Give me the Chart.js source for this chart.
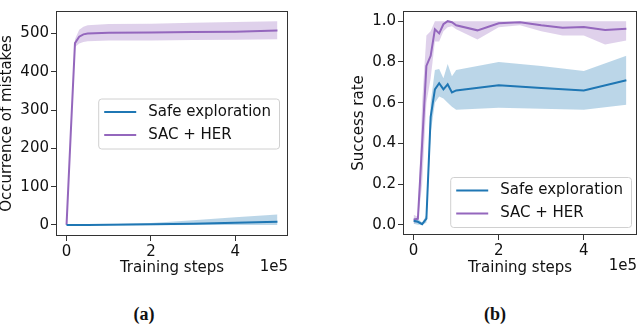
<!DOCTYPE html>
<html>
<head>
<meta charset="utf-8">
<script src="https://cdn.jsdelivr.net/npm/chart.js@4.4.1/dist/chart.umd.min.js"></script>
<style>
  body { margin: 0; width: 640px; height: 325px; background: #fff; position: relative; overflow: hidden; }
  .panel { position: absolute; top: 0; width: 320px; height: 277px; }
  .cap { position: absolute; top: 303px; width: 60px; text-align: center; font: bold 18px "Liberation Serif", serif; color: #111; line-height: 22px; }
</style>
</head>
<body>
<div class="panel" style="left:0"><canvas id="mistakesChart"></canvas></div>
<div class="panel" style="left:320px"><canvas id="successChart"></canvas></div>
<div class="cap" style="left:114px">(a)</div>
<div class="cap" style="left:465px">(b)</div>
<script>
const blue = "#1f77b4";
const purple = "#9467bd";

// (a) occurrence of mistakes, x in 1e5 training steps
const mistakesSteps = [0, 0.1, 0.2, 0.3, 0.4, 0.5, 1, 2, 3, 4, 5];
const mistakesSafe = [0, 0, 0, 0, 0, 0, 0.5, 1.5, 3, 5.5, 8.5];
const mistakesSafeLow = [-1, -1, -1, -1, -1, -1, -1, -1, -0.5, 0, 0];
const mistakesSafeHigh = [1, 1, 1, 1, 1, 1, 2, 5, 12, 20, 27];
const mistakesSac = [0, 240, 475, 492, 498, 500, 502, 503, 504, 505, 508];
const mistakesSacLow = [0, 230, 465, 474, 478, 480, 482, 482, 483, 484, 485];
const mistakesSacHigh = [0, 250, 485, 510, 518, 522, 525, 526, 528, 530, 532];

// (b) success rate
const safeSteps = [0, 0.1, 0.2, 0.3, 0.4, 0.5, 0.6, 0.7, 0.8, 0.9, 1, 2, 3, 4, 5];
const successSafe = [0.02, 0.015, 0.003, 0.03, 0.53, 0.665, 0.695, 0.665, 0.69, 0.65, 0.66, 0.685, 0.672, 0.66, 0.71];
const successSafeLow = [0.005, 0.0, 0.0, 0.01, 0.45, 0.6, 0.63, 0.62, 0.6, 0.58, 0.565, 0.575, 0.57, 0.565, 0.59];
const successSafeHigh = [0.035, 0.03, 0.01, 0.05, 0.6, 0.76, 0.765, 0.72, 0.79, 0.73, 0.76, 0.8, 0.78, 0.755, 0.83];
const sacSteps = [0, 0.1, 0.2, 0.3, 0.4, 0.5, 0.6, 0.7, 0.8, 0.9, 1, 1.5, 2, 2.5, 3, 3.5, 4, 4.5, 5];
const successSac = [0.025, 0.03, 0.4, 0.78, 0.83, 0.96, 0.94, 0.985, 1.0, 0.995, 0.98, 0.955, 0.99, 0.995, 0.98, 0.968, 0.971, 0.957, 0.963];
const successSacLow = [0.005, 0.015, 0.2, 0.6, 0.72, 0.9, 0.9, 0.95, 0.97, 0.975, 0.96, 0.91, 0.97, 0.98, 0.95, 0.93, 0.93, 0.885, 0.905];
const successSacHigh = [0.05, 0.04, 0.6, 0.93, 0.95, 1, 1, 1, 1, 1, 1, 1, 1, 1, 1, 1, 1, 1, 1];

const xTicks = [0, 2, 4];
const legendLabels = ["Safe exploration", "SAC + HER"];
const fontFamily = "DejaVu Sans";

function pts(xs, ys) {
  return xs.map((x, i) => ({ x: x, y: ys[i] }));
}

function band(xs, low, high, color) {
  return [
    { data: pts(xs, high), borderWidth: 0, pointRadius: 0, fill: false, order: 2, band: true },
    { data: pts(xs, low), borderWidth: 0, pointRadius: 0, fill: "-1", backgroundColor: color, order: 2, band: true },
  ];
}

function line(label, xs, ys, color) {
  return { label: label, data: pts(xs, ys), borderColor: color, borderWidth: 2, pointRadius: 0, fill: false, order: 1, tension: 0 };
}

// frame, legend box and the "1e5" offset text
const framePlugin = {
  id: "frame",
  afterDraw(chart, args, opts) {
    const ctx = chart.ctx;
    const a = chart.chartArea;
    ctx.save();
    ctx.strokeStyle = "#333";
    ctx.lineWidth = 1;
    ctx.strokeRect(Math.round(a.left) + 0.5, Math.round(a.top) + 0.5, Math.round(a.right - a.left) - 1, Math.round(a.bottom - a.top) - 1);

    ctx.font = "15px " + fontFamily;
    ctx.fillStyle = "#111";
    ctx.textAlign = "right";
    ctx.textBaseline = "middle";
    ctx.fillText("1e5", a.right, a.bottom + 31);

    const items = chart.data.datasets.filter((d) => !d.band);
    ctx.textAlign = "left";
    const textW = Math.max(...items.map((d) => ctx.measureText(d.label).width));
    const w = 6 + 32 + 12 + textW + 8;
    const h = opts.rowH * items.length + 4;
    const x0 = a.right - opts.padRight - w;
    const y0 = opts.valign === "center" ? (a.top + a.bottom) / 2 - h / 2 : a.bottom - opts.padBottom - h;
    ctx.fillStyle = "rgba(255,255,255,0.8)";
    ctx.strokeStyle = "#d0d0d0";
    ctx.beginPath();
    ctx.roundRect(x0 + 0.5, y0 + 0.5, w, h, 3);
    ctx.fill();
    ctx.stroke();
    items.forEach((d, i) => {
      const y = y0 + 2 + opts.rowH * (i + 0.5);
      ctx.strokeStyle = d.borderColor;
      ctx.lineWidth = 2;
      ctx.beginPath();
      ctx.moveTo(x0 + 6, y);
      ctx.lineTo(x0 + 38, y);
      ctx.stroke();
      ctx.fillStyle = "#111";
      ctx.fillText(d.label, x0 + 50, y);
    });
    ctx.restore();
  },
};

function createChart(canvasId, cfg) {
  const ctx = document.getElementById(canvasId).getContext("2d");
  const tickFont = { family: fontFamily, size: 15 };
  new Chart(ctx, {
    type: "line",
    data: { datasets: cfg.datasets },
    options: {
      responsive: true,
      maintainAspectRatio: false,
      animation: false,
      layout: { padding: cfg.padding },
      plugins: {
        legend: { display: false },
        tooltip: { enabled: false },
        frame: cfg.legend,
      },
      scales: {
        x: {
          type: "linear",
          min: -0.25,
          max: 5.25,
          afterBuildTicks: (s) => { s.ticks = xTicks.map((v) => ({ value: v })); },
          ticks: { font: tickFont, color: "#111", padding: 2, maxRotation: 0, callback: (v) => String(v) },
          grid: { drawOnChartArea: false, tickLength: 5, color: "#333" },
          border: { display: false },
          title: { display: true, text: "Training steps", font: tickFont, color: "#111", padding: 0 },
          afterFit: (s) => { s.height = cfg.xHeight; },
        },
        y: {
          min: cfg.yMin,
          max: cfg.yMax,
          ticks: { font: tickFont, color: "#111", padding: 2, stepSize: cfg.yStep, includeBounds: false, callback: cfg.yFormat },
          grid: { drawOnChartArea: false, tickLength: 5, color: "#333" },
          border: { display: false },
          title: { display: true, text: cfg.yTitle, font: { family: fontFamily, size: 15, lineHeight: 1 }, color: "#111", padding: 0 },
          afterFit: (s) => { s.width = cfg.yWidth; },
        },
      },
    },
    plugins: [framePlugin],
  });
}

createChart("mistakesChart", {
  datasets: [
    line(legendLabels[0], mistakesSteps, mistakesSafe, blue),
    line(legendLabels[1], mistakesSteps, mistakesSac, purple),
    ...band(mistakesSteps, mistakesSafeLow, mistakesSafeHigh, "rgba(31,119,180,0.3)"),
    ...band(mistakesSteps, mistakesSacLow, mistakesSacHigh, "rgba(148,103,189,0.3)"),
  ],
  padding: { left: 0, top: 5, right: 32, bottom: 0 },
  xHeight: 41,
  yWidth: 56,
  yMin: -29,
  yMax: 559,
  yStep: 100,
  yFormat: (v) => String(v),
  yTitle: "Occurrence of mistakes",
  legend: { valign: "center", padRight: 9, rowH: 23 },
});

createChart("successChart", {
  datasets: [
    line(legendLabels[0], safeSteps, successSafe, blue),
    line(legendLabels[1], sacSteps, successSac, purple),
    ...band(safeSteps, successSafeLow, successSafeHigh, "rgba(31,119,180,0.3)"),
    ...band(sacSteps, successSacLow, successSacHigh, "rgba(148,103,189,0.3)"),
  ],
  padding: { left: 32, top: 1, right: 3, bottom: 0 },
  xHeight: 42,
  yWidth: 51,
  yMin: -0.05,
  yMax: 1.05,
  yStep: 0.2,
  yFormat: (v) => v.toFixed(1),
  yTitle: "Success rate",
  legend: { valign: "bottom", padRight: 6, padBottom: 8, rowH: 23 },
});
</script>
</body>
</html>
